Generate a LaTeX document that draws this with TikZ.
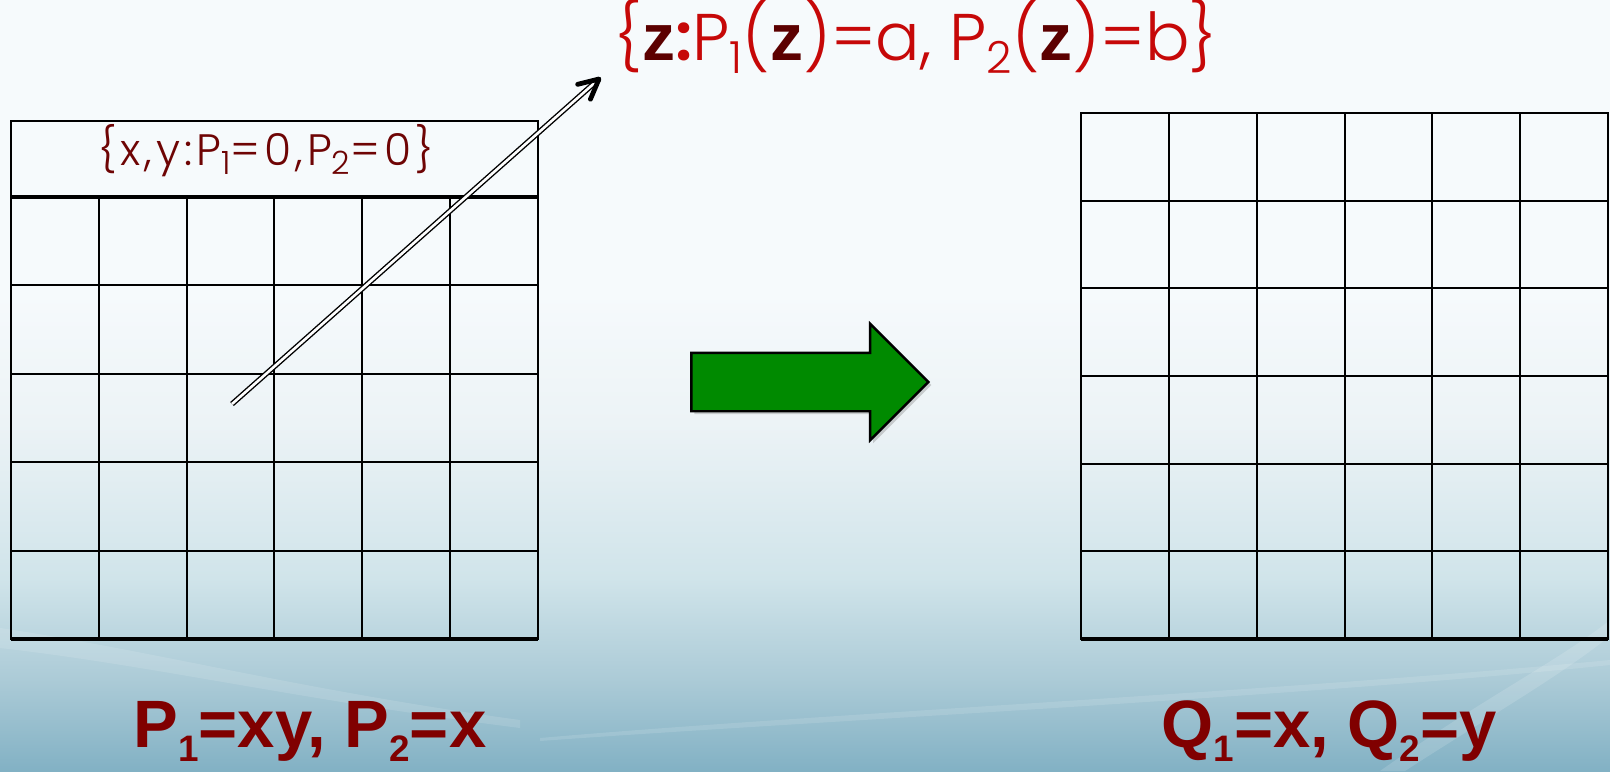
\documentclass[tikz,border=0pt]{standalone}
\usepackage{fontspec}
\usetikzlibrary{arrows.meta,shapes.arrows,shadows}
\setmainfont{Liberation Sans}
\IfFontExistsTF{Poppins Light}
  {\newfontfamily\thinfont{Poppins Light}\newfontfamily\widefont{Poppins Light}[LetterSpace=9]}
  {\newfontfamily\thinfont{Poppins}\newfontfamily\widefont{Poppins}[LetterSpace=9]}
\definecolor{setred}{RGB}{198,8,8}
\definecolor{setdark}{RGB}{92,0,0}
\definecolor{headred}{RGB}{110,4,4}
\definecolor{labelred}{RGB}{128,0,0}
\definecolor{bgtop}{RGB}{246,250,252}
\definecolor{bgpale}{RGB}{236,243,246}
\definecolor{bgmid}{RGB}{208,228,234}
\definecolor{bglow}{RGB}{172,203,215}
\definecolor{bgbot}{RGB}{130,177,196}
\definecolor{arrowgreen}{RGB}{0,138,0}
% the path spans 25bp (bottom) to 75bp (top) of the shading
\pgfdeclareverticalshading{bgshade}{100bp}{color(0bp)=(bgbot); color(25bp)=(bgbot); color(31bp)=(bglow); color(37.5bp)=(bgmid); color(47.5bp)=(bgpale); color(56bp)=(bgtop); color(100bp)=(bgtop)}
\newcommand{\lowsub}[2][0.7]{\raisebox{-0.21em}{\scalebox{#1}{#2}}}
\newcommand{\bz}{\textcolor{setdark}{\normalfont\bfseries z}}
\tikzset{
  cell line/.style={black, line width=1pt},
  set label/.style={font=\thinfont\fontsize{33}{36}\selectfont, text=setred, anchor=base},
  head label/.style={font=\widefont\fontsize{22}{26}\selectfont, text=headred, anchor=base},
  poly label/.style={font=\bfseries\fontsize{33.5}{38}\selectfont, text=labelred, anchor=base},
}
\begin{document}
\begin{tikzpicture}[x=0.5pt, y=-0.5pt]
  % background
  \useasboundingbox (0,0) rectangle (1610,771);
  \shade[shading=bgshade] (0,0) rectangle (1610,771);
  \fill[white, opacity=0.12] (0,628) .. controls (150,650) and (300,690) .. (520,720)
    -- (520,728) .. controls (300,700) and (150,665) .. (0,648) -- cycle;
  \fill[white, opacity=0.12] (540,738) .. controls (800,715) and (1300,690) .. (1610,660)
    -- (1610,665) .. controls (1300,697) and (800,722) .. (540,741) -- cycle;
  \fill[white, opacity=0.14] (1380,771) .. controls (1480,700) and (1560,660) .. (1610,620)
    -- (1610,636) .. controls (1560,676) and (1490,716) .. (1405,771) -- cycle;

  % left table
  \draw[cell line] (11,121) rectangle (538,639);
  \draw[line width=1.6pt] (11,197) -- (538,197);
  \draw[line width=1.6pt] (11,639) -- (538,639);
  \foreach \i in {1,...,5}
    \draw[cell line] ({11+\i*87.83},197) -- ({11+\i*87.83},639);
  \foreach \j in {1,...,4}
    \draw[cell line] (11,{197+\j*88.4}) -- (538,{197+\j*88.4});
  \node[head label] (zeroset) at (266,165) {\{x,y:P\lowsub[0.73]{1}=0,P\lowsub[0.73]{2}=0\}};

  % right table
  \draw[cell line] (1081,113) rectangle (1608,639);
  \draw[line width=1.6pt] (1081,639) -- (1608,639);
  \foreach \i in {1,...,5}
    \draw[cell line] ({1081+\i*87.83},113) -- ({1081+\i*87.83},639);
  \foreach \j in {1,...,5}
    \draw[cell line] (1081,{113+\j*87.67}) -- (1608,{113+\j*87.67});

  % fibre pointer
  \node[set label] (fibre) at (916,60) {\{\bz\textbf{:}P\lowsub[0.67]{1}(\bz)=a, P\lowsub[0.67]{2}(\bz)=b\}};
  \coordinate (start) at (232,404);
  \coordinate (tip) at (599,79);
  \draw[double, double distance=1.3pt, line width=0.7pt] (start) -- (tip);
  \draw[line width=2.4pt, line cap=round, line join=round]
    ([shift={(166:22)}]tip) -- (tip) -- ([shift={(113:22)}]tip);

  % map arrow
  \node[single arrow, draw=black, line width=1.2pt, fill=arrowgreen,
        inner xsep=0pt, inner ysep=14pt, minimum height=118.5pt,
        single arrow head extend=14.5pt, anchor=tip,
        drop shadow={shadow xshift=1.5pt, shadow yshift=-1.5pt, opacity=0.35}] (map) at (930,382) {};

  % labels
  \node[poly label] (plabel) at (310,747) {P\lowsub[0.55]{1}=xy, P\lowsub[0.55]{2}=x};
  \node[poly label] (qlabel) at (1329,747) {Q\lowsub[0.55]{1}=x, Q\lowsub[0.55]{2}=y};
\end{tikzpicture}
\end{document}
